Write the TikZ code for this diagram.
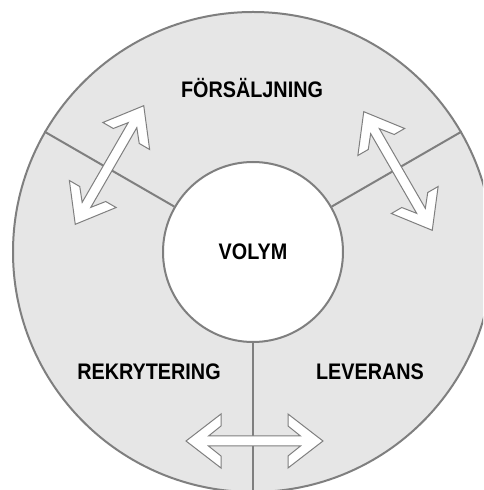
\documentclass[tikz,border=0pt]{standalone}
\usepackage{fontspec}
\newfontfamily\labelfont[FakeStretch=0.88]{Liberation Sans}
\usetikzlibrary{calc}
\definecolor{ringgray}{HTML}{E6E6E6}
\definecolor{linegray}{HTML}{7F7F7F}
\tikzset{
  dblarrow/.pic={
    \filldraw[fill=white, draw=linegray, line width=1pt]
      (-68.5,0) -- (-33.5,27) -- (-33.5,15) -- (-46,5) -- (46,5) -- (33.5,15)
      -- (33.5,27) -- (68.5,0) -- (33.5,-27) -- (33.5,-15) -- (46,-5)
      -- (-46,-5) -- (-33.5,-15) -- (-33.5,-27) -- cycle;
  }
}

\begin{document}
\begin{tikzpicture}[x=1pt, y=1pt, font=\labelfont\bfseries\fontsize{22.5}{25}\selectfont,
    ring/.style={draw=linegray, line width=2pt, fill=ringgray, circle, inner sep=0pt},
    core/.style={draw=linegray, line width=2pt, fill=white, circle, inner sep=0pt},
    divider/.style={draw=linegray, line width=2pt},
    area/.style={anchor=base, inner sep=0pt}]
    \useasboundingbox (0,0) rectangle (483,490);
    \clip (0,0) rectangle (483,490);
    % ringar
    \node[ring, minimum size=480pt] (outer) at (253,238) {};
    \node[core, minimum size=180pt] (volym) at (outer.center) {VOLYM};
    % skiljelinjer
    \draw[divider] (volym.150) -- (outer.150);
    \draw[divider] (volym.30) -- (outer.30);
    \draw[divider] (volym.south) -- (outer.south);
    % områden
    \node[area] (sales) at (252,392.7) {FÖRSÄLJNING};
    \node[area] (recruit) at (149,110) {REKRYTERING};
    \node[area] (delivery) at (370,110) {LEVERANS};
    % pilar
    \pic[rotate=60] (arrowleft) at (109.5,325) {dblarrow};
    \pic[rotate=-60] (arrowright) at (398,319) {dblarrow};
    \pic (arrowbottom) at (254.5,49) {dblarrow};
\end{tikzpicture}
\end{document}
